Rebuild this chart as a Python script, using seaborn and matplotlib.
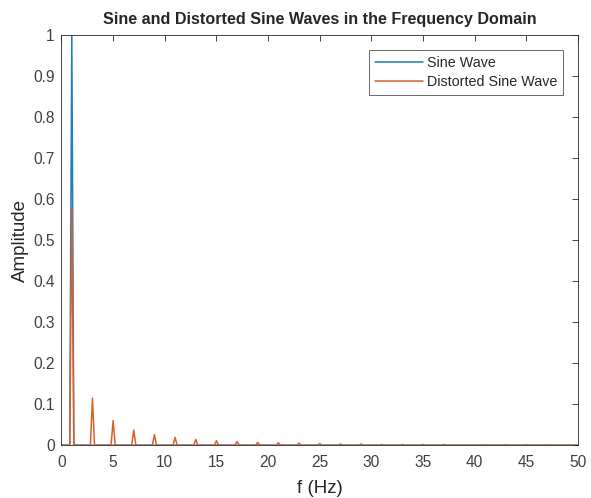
import numpy as np
import pandas as pd
import seaborn as sns
import matplotlib
matplotlib.use("Agg")
import matplotlib.pyplot as plt

# spectral peaks (Hz, amplitude)
sine_peak_freq = [1]
sine_peak_amp = [1.0]

dist_peak_freq = [1, 3, 5, 7, 9, 11, 13, 15, 17, 19, 21, 23, 25, 27, 29,
                  31, 33, 35, 37, 39, 41, 43, 45, 47, 49]
dist_peak_amp = [0.58, 0.115, 0.06, 0.037, 0.026, 0.019, 0.014, 0.011, 0.009,
                 0.007, 0.006, 0.005, 0.004, 0.003, 0.003, 0.002, 0.002, 0.002,
                 0.002, 0.001, 0.001, 0.001, 0.001, 0.001, 0.001]

f_max = 50
half_width = 0.2  # frequency bin spacing of the spectrum


def spectrum(peak_freq, peak_amp):
    f = [0.0]
    a = [0.0]
    for pf, pa in zip(peak_freq, peak_amp):
        f += [pf - half_width, pf, pf + half_width]
        a += [0.0, pa, 0.0]
    f.append(f_max)
    a.append(0.0)
    return f, a


sf, sa = spectrum(sine_peak_freq, sine_peak_amp)
df_, da = spectrum(dist_peak_freq, dist_peak_amp)
data = pd.concat([
    pd.DataFrame({"f": sf, "amp": sa, "series": "Sine Wave"}),
    pd.DataFrame({"f": df_, "amp": da, "series": "Distorted Sine Wave"}),
])

sns.set_style("white")
plt.rcParams['font.family'] = ['Liberation Sans', 'DejaVu Sans']

fig = plt.figure(figsize=(5.91, 4.98), dpi=100)
ax = fig.add_axes([0.104, 0.106, 0.874, 0.823])

sns.lineplot(data=data, x="f", y="amp", hue="series", sort=False,
             palette=["#1f7fba", "#d9602a"], linewidth=1.1, ax=ax, estimator=None)

ax.set_xlim(0, 50)
ax.set_ylim(0, 1)
ax.set_xticks(np.arange(0, 51, 5))
ax.set_yticks(np.arange(0, 1.01, 0.1))
ax.set_yticklabels(["0", "0.1", "0.2", "0.3", "0.4", "0.5", "0.6", "0.7", "0.8", "0.9", "1"])
ax.tick_params(direction="in", length=4, width=0.6, top=True, right=True,
               labelsize=11.2, colors="#262626", labelcolor="#404040")
ax.tick_params(axis="x", pad=7)
ax.tick_params(axis="y", pad=5)
for s in ax.spines.values():
    s.set_color("#262626")
    s.set_linewidth(0.6)

ax.set_title("Sine and Distorted Sine Waves in the Frequency Domain",
             fontsize=11.6, fontweight="bold", pad=8)
ax.set_xlabel("f (Hz)", fontsize=13.5, color="#262626", labelpad=7)
ax.set_ylabel("Amplitude", fontsize=13.5, color="#262626", labelpad=3)

leg = ax.legend(loc="upper right", fontsize=10.3, frameon=True, fancybox=False,
                edgecolor="#262626", borderaxespad=1.05, handlelength=3.4,
                handletextpad=0.25, labelspacing=0.35, borderpad=0.4)
leg.get_frame().set_linewidth(0.6)

plt.savefig("out.png", dpi=100)
